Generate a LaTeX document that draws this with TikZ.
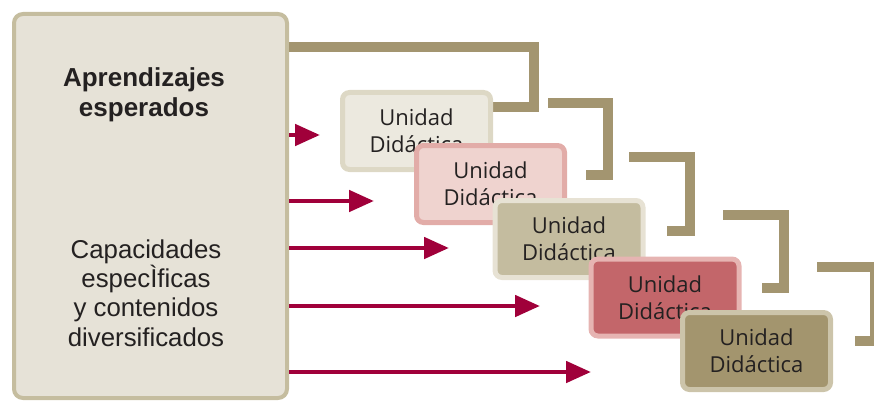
\documentclass[tikz,border=0pt]{standalone}
\usepackage{fontspec}
\usepackage{tikz}
\usetikzlibrary{arrows.meta}
\newfontfamily\cajafont{Liberation Sans}
\newfontfamily\unifont{Open Sans}

\definecolor{grandefondo}{RGB}{230,226,215}
\definecolor{grandeborde}{RGB}{197,189,159}
\definecolor{llavecolor}{RGB}{163,149,112}
\definecolor{flechacolor}{RGB}{160,0,58}
\definecolor{textogris}{RGB}{36,33,33}

\tikzstyle{grande} = [draw=grandeborde, fill=grandefondo, line width=4pt, rounded corners=9pt, minimum width=273pt, minimum height=384pt, inner sep=0pt]
\tikzstyle{unidad} = [rounded corners=7pt, line width=5pt, minimum width=148pt, minimum height=77pt, inner sep=0pt, align=center, text=textogris, font=\unifont\fontsize{22}{27}\selectfont]
\tikzstyle{llave} = [line width=10pt, draw=llavecolor]
\tikzstyle{flecha} = [line width=4.8pt, draw=flechacolor, fill=flechacolor, -{Triangle[length=25pt,width=21pt]}]

\begin{document}
\begin{tikzpicture}[x=1pt, y=-1pt]
\useasboundingbox (0,0) rectangle (874,401);
\clip (0,0) rectangle (874,401);

\node[grande] (caja) at (150.5,206) {};
\node[align=center, text=textogris, font=\cajafont\bfseries\fontsize{26}{30}\selectfont] (titulo) at (144,95) {Aprendizajes\\esperados};
\node[align=center, text=textogris, font=\cajafont\fontsize{25.8}{29.3}\selectfont] (capac) at (146,293) {Capacidades\\especÌficas\\y contenidos\\diversificados};

% llaves detras de las unidades
\coordinate (u1e) at (493,107);
\draw[llave] (caja.east |- 0,47) -| (534,107) -- (u1e);
\draw[llave] (548,103) -| (608,175) -- (586,175);
\draw[llave] (629,157) -| (690,231) -- (667,231);
\draw[llave] (723,215) -| (784,288) -- (762,288);
\draw[llave] (817,267) -| (875,341) -- (855,341);

% unidades didacticas
\node[unidad, draw={rgb,255:red,221;green,216;blue,197}, fill={rgb,255:red,236;green,233;blue,223}] (u1) at (416.5,131) {Unidad\\Didáctica};
\node[unidad, draw={rgb,255:red,226;green,172;blue,168}, fill={rgb,255:red,239;green,211;blue,207}] (u2) at (490.5,184) {Unidad\\Didáctica};
\node[unidad, draw={rgb,255:red,231;green,226;blue,212}, fill={rgb,255:red,196;green,188;blue,159}] (u3) at (569,239) {Unidad\\Didáctica};
\node[unidad, draw={rgb,255:red,230;green,180;blue,178}, fill={rgb,255:red,195;green,102;blue,106}] (u4) at (665,297.5) {Unidad\\Didáctica};
\node[unidad, draw={rgb,255:red,204;green,196;blue,170}, fill={rgb,255:red,163;green,149;blue,110}] (u5) at (756.5,351) {Unidad\\Didáctica};

% flechas
\foreach \y/\x in {135/320, 201/374, 248/449, 306/540, 372/591}
  \draw[flecha] (caja.east |- 0,\y) -- (\x,\y);
\end{tikzpicture}
\end{document}
